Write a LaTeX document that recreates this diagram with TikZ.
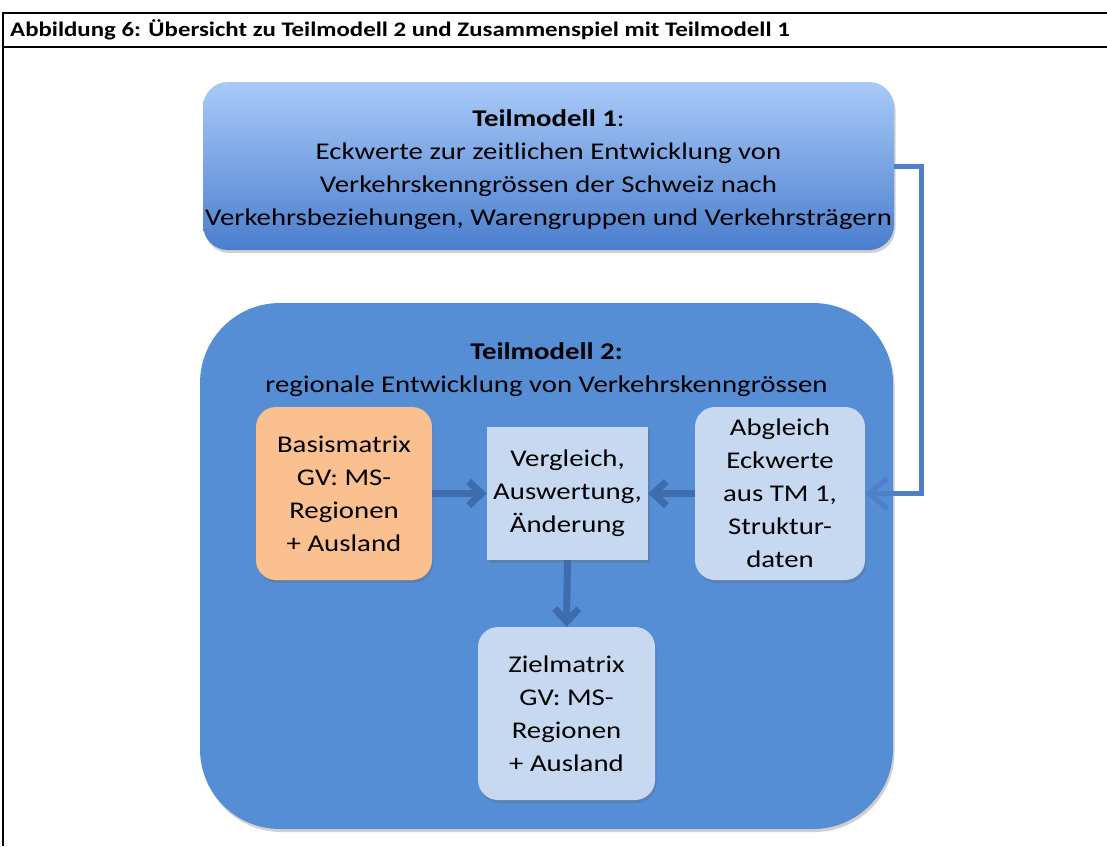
\documentclass[tikz,border=0pt]{standalone}
\usepackage{fontspec}
\setmainfont[FakeStretch=1.2]{Carlito}
\usetikzlibrary{arrows.meta,shadows}
\definecolor{tmtop}{HTML}{A8CAF8}
\definecolor{tmbot}{HTML}{4A7ECD}
\definecolor{tmtwo}{HTML}{558ED5}
\definecolor{lightbox}{HTML}{C6D9F1}
\definecolor{orangebox}{HTML}{FAC090}
\definecolor{arrowblue}{HTML}{3F6CAD}
\definecolor{connblue}{HTML}{4D80C6}
\tikzset{
  frameline/.style={line width=2pt, black},
  boxshadow/.style={drop shadow={opacity=0.3, shadow xshift=1.5pt, shadow yshift=-3pt, fill=black!60}},
  bigtext/.style={font=\fontsize{24}{33}\selectfont, align=center, text=black},
  innerbox/.style={bigtext, boxshadow, inner sep=0pt},
  flowarrow/.style={line width=7pt, arrowblue, -{Straight Barb[length=13pt, width=24pt]}},
  connarrow/.style={line width=5pt, connblue, line join=miter, -{Straight Barb[length=18pt, width=30pt]}},
}
\begin{document}
\begin{tikzpicture}[x=1pt, y=-1pt]
\useasboundingbox (0,0) rectangle (1107,846);
\fill[white] (0,0) rectangle (1107,846);
% frame
\draw[frameline] (1107,13) -- (3,13) -- (3,846);
\draw[frameline] (3,47) -- (1107,47);
\node[anchor=west, font=\bfseries\fontsize{20.7}{24}\selectfont, inner sep=0pt] (hdr) at (10,30)
  {Abbildung 6: Übersicht zu Teilmodell 2 und Zusammenspiel mit Teilmodell 1};

% Teilmodell 1
\node[boxshadow, rounded corners=25pt, top color=tmtop, bottom color=tmbot,
      minimum width=691pt, minimum height=168pt, inner sep=0pt] (tm1) at (548.5,166) {};
\node[bigtext] (tm1text) at (548.5,170)
  {\textbf{Teilmodell 1}:\\
   Eckwerte zur zeitlichen Entwicklung von\\
   Verkehrskenngrössen der Schweiz nach\\
   Verkehrsbeziehungen, Warengruppen und Verkehrsträgern};

% Teilmodell 2
\node[boxshadow, rounded corners=80pt, fill=tmtwo,
      minimum width=693pt, minimum height=526pt, inner sep=0pt] (tm2) at (546.5,566) {};
\node[bigtext] (tm2title) at (546.5,370)
  {\textbf{Teilmodell 2:}\\ regionale Entwicklung von Verkehrskenngrössen};

\node[innerbox, rounded corners=20pt, fill=orangebox, minimum width=176pt, minimum height=173pt] (basis) at (344,493.5)
  {Basismatrix\\ GV: MS-\\ Regionen\\ + Ausland};
\node[innerbox, fill=lightbox, minimum width=161pt, minimum height=133pt] (vergl) at (567.5,493.5)
  {Vergleich,\\ Auswertung,\\ Änderung};
\node[innerbox, rounded corners=20pt, fill=lightbox, minimum width=170pt, minimum height=173pt] (abgl) at (780,493.5)
  {Abgleich\\ Eckwerte\\ aus TM 1,\\ Struktur-\\ daten};
\node[innerbox, rounded corners=20pt, fill=lightbox, minimum width=177pt, minimum height=173pt] (ziel) at (566.5,713.5)
  {Zielmatrix\\ GV: MS-\\ Regionen\\ + Ausland};

\draw[flowarrow] (basis.east) -- (vergl.west);
\draw[flowarrow] (abgl.west) -- (vergl.east);
\draw[flowarrow] (vergl.south) -- (ziel.north);

\coordinate (bendx) at (921,0);
\draw[connarrow] (tm1.east) -- (tm1.east -| bendx) |- (abgl.east);
\end{tikzpicture}
\end{document}
